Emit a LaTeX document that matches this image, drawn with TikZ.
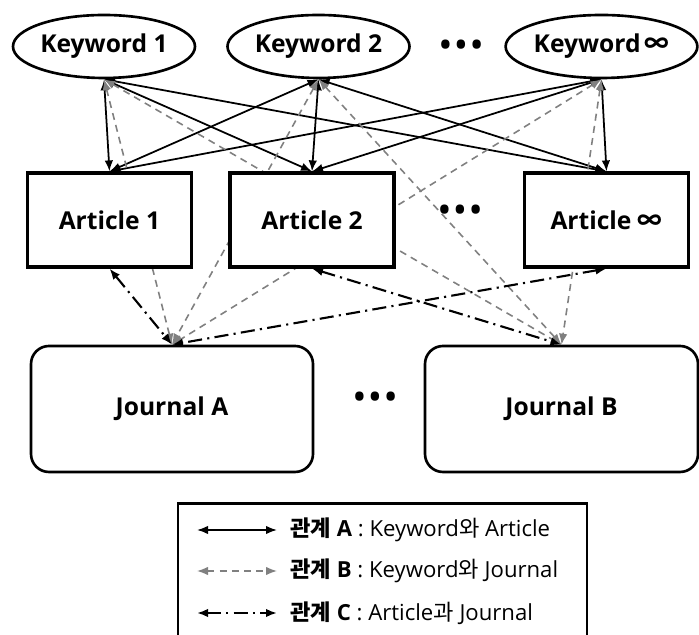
\documentclass[tikz,border=0pt]{standalone}
\usepackage{fontspec}
\setmainfont{Open Sans}
\newfontfamily\kr{Noto Sans CJK KR}
\usetikzlibrary{shapes.geometric,arrows.meta,backgrounds}

\begin{document}
\begin{tikzpicture}[scale=1,
    >={Latex[length=2.2mm,width=1.7mm]},
    kw node/.style={ellipse,draw,line width=1.5pt,fill=white,inner sep=0pt,minimum width=3.64cm,minimum height=1.26cm,font=\fontsize{14}{16}\selectfont\bfseries},
    art node/.style={rectangle,draw,line width=1.8pt,fill=white,inner sep=0pt,minimum width=3.28cm,minimum height=1.88cm,font=\fontsize{14}{16}\selectfont\bfseries},
    jour node/.style={rectangle,rounded corners=0.36cm,draw,line width=1.5pt,fill=white,inner sep=0pt,minimum height=2.52cm,font=\fontsize{14}{16}\selectfont\bfseries},
    dots node/.style={inner sep=0pt,font=\fontsize{17}{17}\selectfont\bfseries},
    rel a/.style={<->,line width=1pt},
    rel b/.style={<->,gray,line width=0.9pt,dash pattern=on 4pt off 3pt},
    rel c/.style={<->,line width=1.2pt,dash pattern=on 8pt off 3pt on 1.2pt off 3pt},
    legend text/.style={anchor=west,inner sep=0pt,font=\fontsize{12.6}{14}\selectfont}]
        \useasboundingbox (0,0) rectangle (13.98,12.68);

        % keywords
        \node[kw node] (k1) at (2.08,11.75) {Keyword 1};
        \node[kw node] (k2) at (6.37,11.75) {Keyword 2};
        \node[kw node] (kinf) at (12.03,11.75) {Keyword\,{\kr ∞}};
        \node[dots node] (kdots) at (9.22,11.72) {•\kern2.5pt•\kern2.5pt•};

        % articles
        \node[art node] (a1) at (2.19,8.28) {Article 1};
        \node[art node] (a2) at (6.24,8.28) {Article 2};
        \node[art node] (ainf) at (12.13,8.28) {Article {\kr ∞}};
        \node[dots node] (adots) at (9.2,8.42) {•\kern2.5pt•\kern2.5pt•};

        % journals
        \node[jour node,minimum width=5.64cm] (ja) at (3.44,4.5) {Journal A};
        \node[jour node,minimum width=5.46cm] (jb) at (11.23,4.5) {Journal B};
        \node[dots node] (jdots) at (7.5,4.68) {•\kern2.5pt•\kern2.5pt•};

        \begin{pgfonlayer}{background}
        \path
          (k1.south) edge[rel a] (a1.north)
          (k1.south) edge[rel a] (a2.north)
          (k1.south) edge[rel a] (ainf.north)
          (k2.south) edge[rel a] (a1.north)
          (k2.south) edge[rel a] (a2.north)
          (k2.south) edge[rel a] (ainf.north)
          (kinf.south) edge[rel a] (a1.north)
          (kinf.south) edge[rel a] (a2.north)
          (kinf.south) edge[rel a] (ainf.north);
        \path
          (k1.south) edge[rel b] (ja.north)
          (k1.south) edge[rel b] (jb.north)
          (k2.south) edge[rel b] (ja.north)
          (k2.south) edge[rel b] (jb.north)
          (kinf.south) edge[rel b] (ja.north)
          (kinf.south) edge[rel b] (jb.north);
        \path
          (a1.south) edge[rel c] (ja.north)
          (a2.south) edge[rel c] (jb.north)
          (ainf.south) edge[rel c] (ja.north);
        \end{pgfonlayer}

        % legend
        \node[draw,line width=1.5pt,anchor=north,minimum width=8.18cm,minimum height=2.9cm] (legend) at (7.65,2.64) {};
        \coordinate (la1) at (3.94,2.08);
        \coordinate (la2) at (5.54,2.08);
        \coordinate (lb1) at (3.94,1.26);
        \coordinate (lb2) at (5.54,1.26);
        \coordinate (lc1) at (3.94,0.42);
        \coordinate (lc2) at (5.54,0.42);
        \path
          (la1) edge[rel a] (la2)
          (lb1) edge[rel b] (lb2)
          (lc1) edge[rel c] (lc2);
        \node[legend text] (ta) at (5.8,2.08) {{\kr\bfseries 관계} \textbf{A} : Keyword{\kr 와} Article};
        \node[legend text] (tb) at (5.8,1.26) {{\kr\bfseries 관계} \textbf{B} : Keyword{\kr 와} Journal};
        \node[legend text] (tc) at (5.8,0.42) {{\kr\bfseries 관계} \textbf{C} : Article{\kr 과} Journal};
      \end{tikzpicture}
\end{document}
